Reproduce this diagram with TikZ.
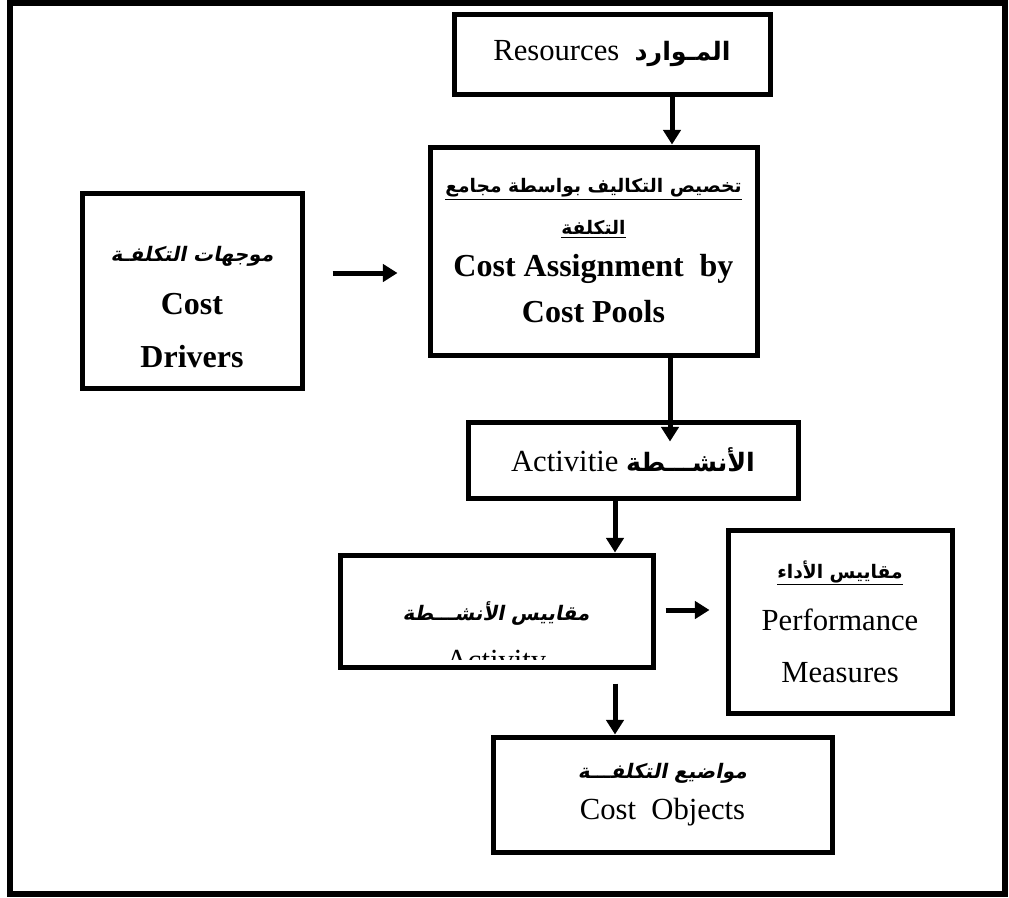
\documentclass[tikz,border=0pt]{standalone}
\usepackage{fontspec}
\setmainfont{Liberation Serif}
\newfontfamily\arabicbold[Script=Arabic]{DejaVu Sans Bold}
\newfontfamily\arabicslant[Script=Arabic,FakeSlant=0.2]{DejaVu Sans Bold}
\TeXXeTstate=1
\usepackage{tikz}
\usetikzlibrary{arrows.meta, positioning, calc}
\newcommand{\artxt}[1]{{\arabicbold\beginR #1\endR}}
\newcommand{\arslant}[1]{{\arabicslant\beginR #1\endR}}
\tikzset{
  box/.style={draw, line width=3.75pt, align=center, inner sep=0pt},
  arr/.style={line width=3.75pt, -{Triangle[length=11pt,width=13pt]}},
  entxt/.style={font=\fontsize{23}{39}\selectfont},
  bftxt/.style={font=\fontsize{24}{31.5}\selectfont\bfseries},
}

\begin{document}
\begin{tikzpicture}[x=0.75pt, y=-0.75pt]
  \useasboundingbox (0,0) rectangle (1009,897);
  % outer frame
  \draw[line width=4.5pt] (10,3) rectangle (1005,894);
  % Resources
  \node[box, entxt, minimum width=316*0.75pt, minimum height=80*0.75pt] (res) at (612,54)
    {Resources\ \ {\fontsize{19}{20}\selectfont\artxt{المـوارد}}};
  % Cost assignment by cost pools
  \node[box, bftxt, minimum width=327*0.75pt, minimum height=208*0.75pt] (cap) at (593.5,251)
    {{\fontsize{14}{20}\selectfont\underline{\artxt{تخصيص التكاليف بواسطة مجامع}}}\\
     {\fontsize{14}{20}\selectfont\underline{\artxt{التكلفة}}}\\
     Cost Assignment\ \ by\\[3pt] Cost Pools};
  % Cost drivers
  \node[box, minimum width=220*0.75pt, minimum height=195*0.75pt] (drv) at (192,290.5) {};
  \node[align=center, font=\fontsize{24}{40}\selectfont\bfseries] (drvtxt) at (192,307)
    {{\fontsize{15}{20}\selectfont\arslant{موجهات التكلفـة}}\\ Cost\\ Drivers};
  % Activities
  \node[box, entxt, minimum width=330*0.75pt, minimum height=76*0.75pt] (act) at (633,460)
    {Activitie {\fontsize{19}{20}\selectfont\artxt{الأنشـــطة}}};
  % Activity measures (text cut off at the bottom)
  \node[box, minimum width=313*0.75pt, minimum height=112*0.75pt] (ams) at (496.5,611) {};
  \begin{scope}
    \clip ($(ams.south west)+(0,-10)$) rectangle (ams.north east);
    \node[font=\fontsize{15}{20}\selectfont] (amsar) at (496,613) {\arslant{مقاييس الأنشـــطة}};
    \node[entxt, anchor=base] (amsen) at (496,670) {Activity};
  \end{scope}
  % Performance measures
  \node[box, entxt, minimum width=224*0.75pt, minimum height=183*0.75pt] (pm) at (840,621.5)
    {{\fontsize{14}{20}\selectfont\underline{\artxt{مقاييس الأداء}}}\\ Performance\\ Measures};
  % Cost objects
  \node[box, font=\fontsize{23}{31}\selectfont, minimum width=339*0.75pt, minimum height=115*0.75pt] (co) at (662.5,794.5)
    {{\fontsize{15}{20}\selectfont\arslant{مواضيع التكلفـــة}}\\ Cost\ \ Objects};
  % connectors
  \coordinate (resout) at ($(res.south)+(60,0)$);
  \draw[arr] (resout) -- (resout |- cap.north);
  \coordinate (drvout) at ($(drv.east)+(28,-17.5)$);
  \draw[arr] (drvout) -- ($(drvout -| cap.west)+(-30,0)$);
  \coordinate (capout) at ($(cap.south)+(76.5,0)$);
  \draw[arr] (capout) -- ($(capout |- act.north)+(0,22)$);
  \coordinate (actout) at ($(act.south)+(-18,0)$);
  \draw[arr] (actout) -- (actout |- ams.north);
  \coordinate (amsout) at ($(ams.east)+(10,-1)$);
  \draw[arr] (amsout) -- ($(amsout -| pm.west)+(-16,0)$);
  \coordinate (amsdown) at ($(ams.south)+(118.5,14)$);
  \draw[arr] (amsdown) -- (amsdown |- co.north);
\end{tikzpicture}
\end{document}
